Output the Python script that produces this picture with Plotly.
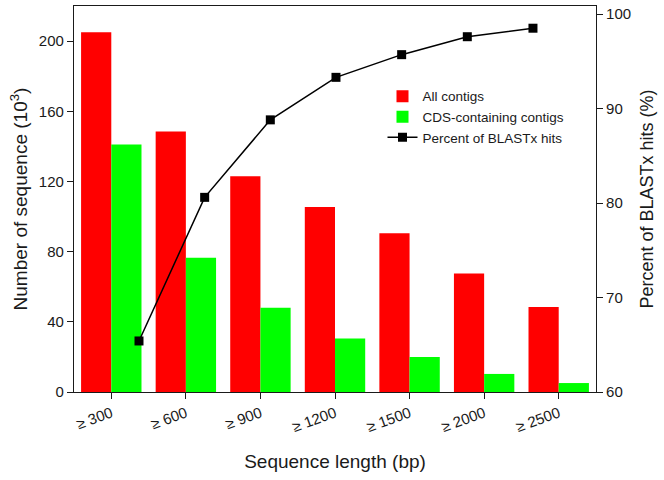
import plotly.graph_objects as go

categories = ["≥ 300", "≥ 600", "≥ 900", "≥ 1200", "≥ 1500", "≥ 2000", "≥ 2500"]
all_contigs = [205, 148.5, 123, 105.5, 90.5, 67.5, 48.5]
cds_contigs = [141, 76.5, 48, 30.5, 20, 10.3, 5.1]
blastx_pct = [65.4, 80.6, 88.8, 93.3, 95.7, 97.6, 98.5]

font_family = "Liberation Sans, Arial, sans-serif"
ink = "#1a1a1a"

fig = go.Figure()
fig.add_trace(go.Bar(x=categories, y=all_contigs, name="All contigs",
                     marker=dict(color="#ff0000", line=dict(width=0))))
fig.add_trace(go.Bar(x=categories, y=cds_contigs, name="CDS-containing contigs",
                     marker=dict(color="#00ff00", line=dict(width=0))))
fig.add_trace(go.Scatter(x=categories, y=blastx_pct, name="Percent of BLASTx hits",
                         mode="lines+markers", xaxis="x2", yaxis="y2",
                         line=dict(color="black", width=1.5),
                         marker=dict(symbol="square", size=9, color="black")))

fig.update_layout(
    width=664, height=480,
    margin=dict(l=74, r=68, t=6, b=88, autoexpand=False),
    paper_bgcolor="white", plot_bgcolor="white",
    font=dict(family=font_family, size=15, color=ink),
    barmode="group", bargap=0.19, bargroupgap=0,
    showlegend=True,
    legend=dict(x=0.591, y=0.806, xanchor="left", yanchor="top",
                bgcolor="rgba(0,0,0,0)", font=dict(size=13.5, color=ink),
                tracegroupgap=0, itemwidth=30),
    xaxis=dict(type="category", range=[-0.5, 6.5], automargin=False,
               showline=True, linecolor=ink, linewidth=1.2, mirror=True,
               ticks="outside", ticklen=6, tickcolor=ink, tickangle=-20,
               tickfont=dict(size=15),
               showgrid=False, zeroline=False,
               title=dict(text="Sequence length (bp)", font=dict(size=19), standoff=20)),
    xaxis2=dict(type="category", overlaying="x", range=[-0.99, 6.96], automargin=False,
                showticklabels=False, showline=False, ticks="", showgrid=False,
                zeroline=False),
    yaxis=dict(range=[0, 220], tickvals=[0, 40, 80, 120, 160, 200], automargin=False,
               showline=True, linecolor=ink, linewidth=1.2,
               ticks="outside", ticklen=6, tickcolor=ink,
               tickfont=dict(size=15), showgrid=False, zeroline=False,
               title=dict(text="Number of sequence (10<sup>3</sup>)", font=dict(size=19), standoff=6)),
    yaxis2=dict(range=[60, 100.85], tickvals=[60, 70, 80, 90, 100], automargin=False,
                overlaying="y", side="right", anchor="x",
                showline=True, linecolor=ink, linewidth=1.2,
                ticks="outside", ticklen=6, tickcolor=ink,
                tickfont=dict(size=15), showgrid=False, zeroline=False,
                title=dict(text="Percent of BLASTx hits (%)", font=dict(size=18), standoff=10)),
)

fig.write_html("out.html", config={"displayModeBar": False},
               post_script="document.body.style.margin='0px';document.body.style.padding='0px';")
